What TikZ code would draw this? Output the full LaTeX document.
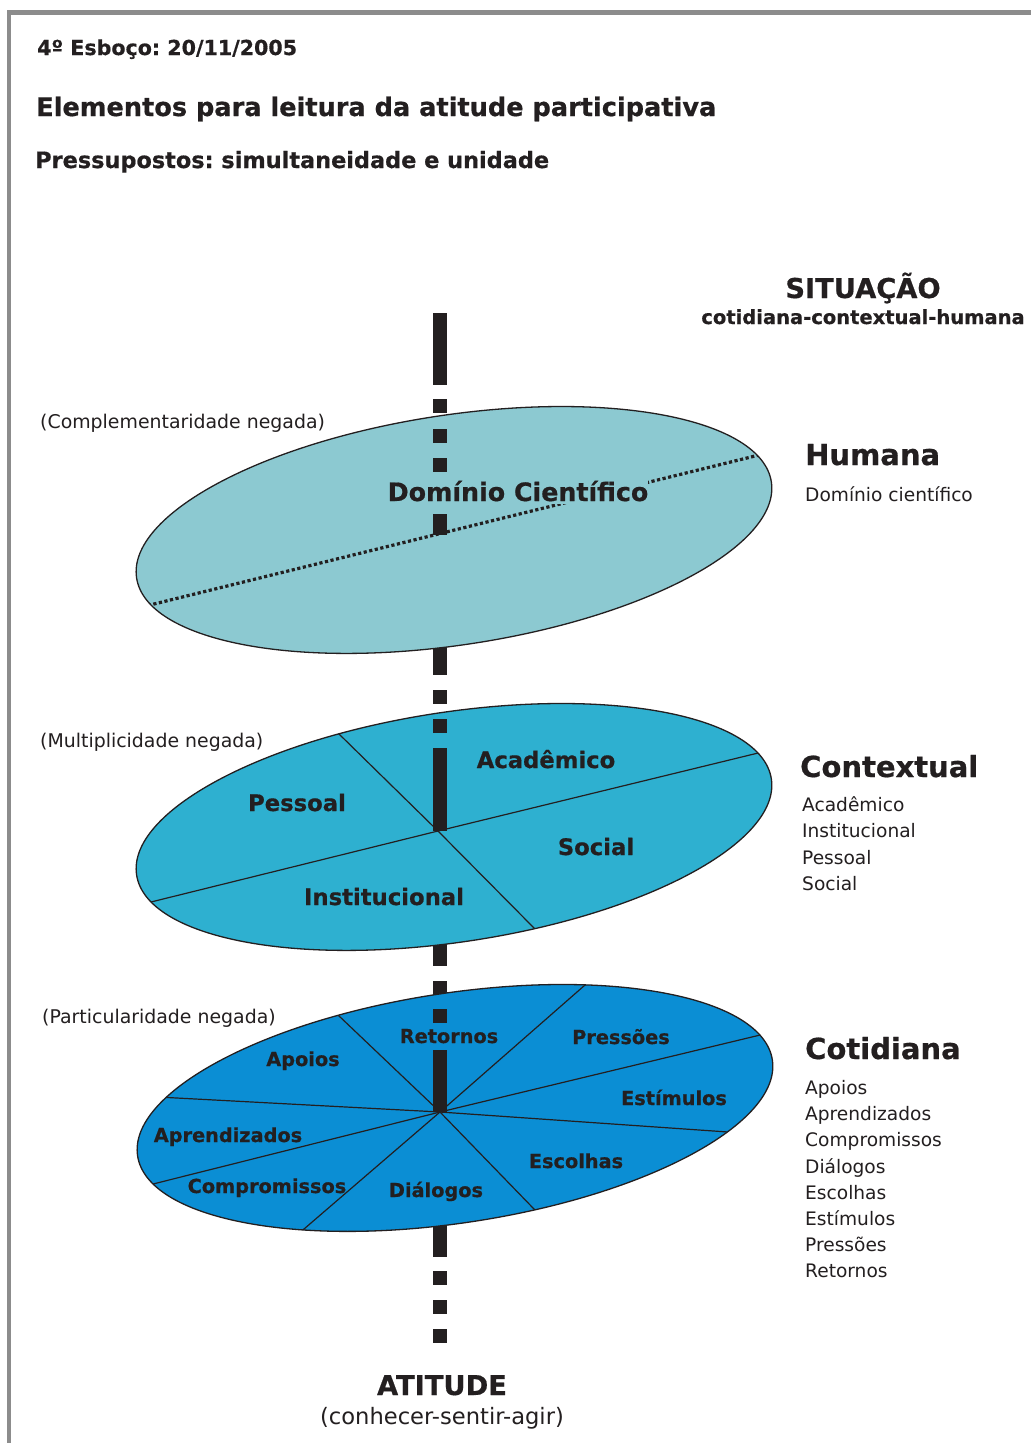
\documentclass[tikz,border=0pt]{standalone}
\usepackage{fontspec}
\setmainfont{DejaVu Sans}[BoldFeatures={FakeBold=0.6}]
\usetikzlibrary{calc}
\definecolor{ink}{RGB}{35,31,32}
\definecolor{framegray}{RGB}{140,140,140}
\definecolor{humanfill}{RGB}{140,201,209}
\definecolor{contextfill}{RGB}{46,176,208}
\definecolor{dailyfill}{RGB}{11,142,212}
\frenchspacing

\begin{document}
\begin{tikzpicture}[x=1pt,y=-1pt,
  txt/.style={inner sep=0pt, text=ink},
  header/.style={txt, anchor=base west, font=\fontsize{20.6}{24}\selectfont\bfseries},
  maintitle/.style={txt, anchor=base west, font=\fontsize{25.6}{30}\selectfont\bfseries},
  subtitle/.style={txt, anchor=base west, font=\fontsize{22.4}{26}\selectfont\bfseries},
  levelname/.style={txt, anchor=base west, font=\fontsize{29}{34}\selectfont\bfseries},
  item/.style={txt, anchor=base west, font=\fontsize{18.6}{21}\selectfont},
  note/.style={txt, anchor=base west, font=\fontsize{18.9}{22}\selectfont},
  pole/.style={txt, anchor=base, font=\fontsize{27.3}{31}\selectfont\bfseries},
  toplab/.style={txt, anchor=base, font=\fontsize{25.3}{30}\selectfont\bfseries},
  midlab/.style={txt, anchor=base, font=\fontsize{22.7}{26}\selectfont\bfseries},
  lowlab/.style={txt, anchor=base, font=\fontsize{19.3}{23}\selectfont\bfseries},
  seg/.style={fill=ink},
  rim/.style={draw=ink, line width=1.3pt},
  divider/.style={draw=ink, line width=1.2pt},
  dots/.style={draw=ink, line width=3.2pt, dash pattern=on 3.2pt off 2.5pt}]

\useasboundingbox (0,0) rectangle (1031,1443);
\fill[white] (0,0) rectangle (1031,1443);

% frame
\draw[framegray, line width=5pt] (7,12) -- (1031,12);
\draw[framegray, line width=3.4pt] (9,10) -- (9,1443);

% axis pieces lying behind the discs
\foreach \a/\b in {313/385, 640/675, 690/704, 935/966, 981/995,
                   1220/1257, 1271/1285, 1300/1314, 1329/1343}
  \fill[seg] (433,\a) rectangle (447,\b);

% ---- upper disc: Humana
\coordinate (hubH) at (440,535);
\coordinate (cH) at (454,530);
\fill[humanfill, rotate around={8.6:(cH)}] (cH) ellipse [x radius=321pt, y radius=115pt];
\begin{scope}
  \clip[rotate around={8.6:(cH)}] (cH) ellipse [x radius=321pt, y radius=115pt];
  \coordinate (h1) at (155,604);
  \coordinate (h2) at (756,456);
  \draw[dots] ($(hubH)!1.2!(h1)$) -- ($(hubH)!1.2!(h2)$);
\end{scope}
\draw[rim, rotate around={8.6:(cH)}] (cH) ellipse [x radius=321pt, y radius=115pt];
\foreach \a/\b in {399/413, 429/443, 458/472, 514/535}
  \fill[seg] (433,\a) rectangle (447,\b);
\node[toplab, fill=humanfill, inner ysep=3pt] (dc) at (518,501) {Domínio Científico};

% ---- middle disc: Contextual
\coordinate (hubC) at (438,831);
\coordinate (cC) at (454,827);
\fill[contextfill, rotate around={8.6:(cC)}] (cC) ellipse [x radius=321pt, y radius=115pt];
\begin{scope}
  \clip[rotate around={8.6:(cC)}] (cC) ellipse [x radius=321pt, y radius=115pt];
  \foreach \px/\py in {155/901, 754/754, 338/733, 534/928}
    \draw[divider] (hubC) -- ($(hubC)!1.3!(\px,\py)$);
\end{scope}
\draw[rim, rotate around={8.6:(cC)}] (cC) ellipse [x radius=321pt, y radius=115pt];
\foreach \a/\b in {719/733, 748/831}
  \fill[seg] (433,\a) rectangle (447,\b);

% ---- lower disc: Cotidiana
\coordinate (hubD) at (440,1112);
\coordinate (cD) at (455,1108);
\fill[dailyfill, rotate around={8.6:(cD)}] (cD) ellipse [x radius=321pt, y radius=115pt];
\begin{scope}
  \clip[rotate around={8.6:(cD)}] (cD) ellipse [x radius=321pt, y radius=115pt];
  \foreach \px/\py in {338/1015, 585/985, 756/1036, 728/1132,
                       534/1209, 304/1229, 157/1183, 158/1097}
    \draw[divider] (hubD) -- ($(hubD)!1.3!(\px,\py)$);
\end{scope}
\draw[rim, rotate around={8.6:(cD)}] (cD) ellipse [x radius=321pt, y radius=115pt];
\foreach \a/\b in {1009/1023, 1050/1112}
  \fill[seg] (433,\a) rectangle (447,\b);

% ---- headings
\node[header] (sketch) at (37,55) {4º Esboço: 20/11/2005};
\node[maintitle] (title) at (36,116) {Elementos para leitura da atitude participativa};
\node[subtitle] (premise) at (35,168) {Pressupostos: simultaneidade e unidade};

\node[pole] (situ) at (863,298) {SITUAÇÃO};
\node[txt, anchor=base, font=\fontsize{19.5}{23}\selectfont\bfseries] (situsub) at (863,324) {cotidiana-contextual-humana};

\node[pole] (atti) at (442,1395) {ATITUDE};
\node[txt, anchor=base, font=\fontsize{22.6}{26}\selectfont] (attisub) at (442,1424) {(conhecer-sentir-agir)};

% ---- side notes
\node[note] (nH) at (40,428) {(Complementaridade negada)};
\node[note] (nC) at (40,747) {(Multiplicidade negada)};
\node[note] (nD) at (42,1023) {(Particularidade negada)};

% ---- right column
\node[levelname] (lH) at (805,465) {Humana};
\node[item] (iH) at (805,501) {Domínio científico};

\node[levelname] (lC) at (800,777) {Contextual};
\foreach \w [count=\i from 0] in {Acadêmico, Institucional, Pessoal, Social}
  \node[item] (ic\i) at (802,811.5+26.4*\i) {\w};

\node[levelname] (lD) at (805,1059) {Cotidiana};
\foreach \w [count=\i from 0] in {Apoios, Aprendizados, Compromissos, Diálogos,
                                  Escolhas, Estímulos, Pressões, Retornos}
  \node[item] (id\i) at (805,1094.5+26.2*\i) {\w};

% ---- sectors of the middle disc
\node[midlab] (acad) at (546,768) {Acadêmico};
\node[midlab] (pess) at (297,811) {Pessoal};
\node[midlab] (soci) at (596,855) {Social};
\node[midlab] (inst) at (384,905) {Institucional};

% ---- sectors of the lower disc
\node[lowlab] (reto) at (449,1043) {Retornos};
\node[lowlab] (pres) at (621,1044) {Pressões};
\node[lowlab] (apoi) at (303,1066) {Apoios};
\node[lowlab] (esti) at (674,1105) {Estímulos};
\node[lowlab] (apre) at (228,1142) {Aprendizados};
\node[lowlab] (esco) at (576,1168) {Escolhas};
\node[lowlab] (comp) at (267,1193) {Compromissos};
\node[lowlab] (dial) at (436,1197) {Diálogos};

\end{tikzpicture}
\end{document}
